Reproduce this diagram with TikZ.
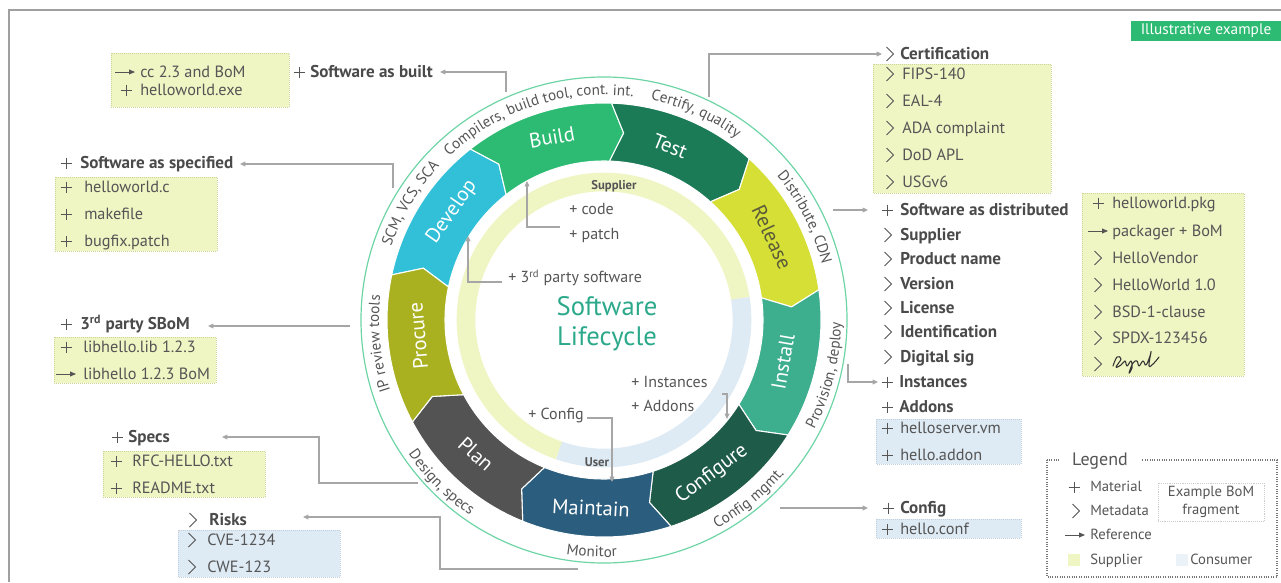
\documentclass[tikz,border=0pt]{standalone}
\usepackage{fontspec}
\setmainfont{PT Sans}
\usetikzlibrary{arrows.meta,decorations.text}

\definecolor{tcol}{HTML}{555555}
\definecolor{hcol}{HTML}{4A4A4A}
\definecolor{linec}{HTML}{A6A6A6}
\definecolor{supc}{HTML}{F0F5C4}
\definecolor{supb}{HTML}{CDD39A}
\definecolor{conc}{HTML}{DEEAF4}
\definecolor{conb}{HTML}{C2D0DD}
\definecolor{ringline}{HTML}{6ED4A6}
\definecolor{framec}{HTML}{A0A0A0}
\definecolor{titlec}{HTML}{2BA98A}
\definecolor{segdev}{HTML}{31C0D8}
\definecolor{segbuild}{HTML}{2DBB73}
\definecolor{segtest}{HTML}{1B7B56}
\definecolor{segrel}{HTML}{D5DF35}
\definecolor{seginst}{HTML}{3DAE8E}
\definecolor{segconf}{HTML}{1E5B48}
\definecolor{segmaint}{HTML}{2A5D7E}
\definecolor{segplan}{HTML}{535353}
\definecolor{segproc}{HTML}{A9B120}
\definecolor{relc}{HTML}{5B5B3A}
\definecolor{illus}{HTML}{2DBB73}

\newcommand\lf{\fontsize{12.2}{14}\selectfont}
\newcommand\hf{\fontsize{12.8}{15}\selectfont}
\newcommand\af{\fontsize{11.4}{13}\selectfont}

\tikzset{
 txt/.style={anchor=mid west, inner sep=0pt, text=tcol, font=\lf, yshift=-1.6pt},
 itxt/.style={anchor=mid west, inner sep=0pt, text=tcol, font=\fontsize{12}{14}\selectfont, yshift=-1.2pt},
 hd/.style={anchor=mid west, inner sep=0pt, text=hcol, font=\hf\bfseries, yshift=-1.8pt},
 ltxt/.style={anchor=mid west, inner sep=0pt, text=tcol, font=\fontsize{11}{13}\selectfont, yshift=-1.2pt},
 mk/.style={draw=tcol, line width=0.75pt},
 conn/.style={draw=linec, line width=0.9pt, -{Triangle[length=4pt,width=3.5pt]}},
 ybox/.style={fill=supc, draw=supb, densely dotted, line width=0.5pt},
 bbox/.style={fill=conc, draw=conb, densely dotted, line width=0.5pt},
 seglab/.style={text=white, font=\fontsize{15.5}{17}\selectfont, inner sep=0pt},
 arctext/.style={decorate, decoration={text along path, text align=center, text color=tcol, text={|\af|#1}}},
 mplus/.pic={\draw[mk] (-5.5,0)--(5.5,0) (0,-5.5)--(0,5.5);},
 mchev/.pic={\draw[mk] (-3.5,-7)--(3.5,0)--(-3.5,7);},
 mref/.pic={\draw[mk] (-11,0)--(4,0); \fill[tcol] (9,0)--(3,-2.6)--(3,2.6)--cycle;},
}
\newcommand\itm[6]{\pic at (#3,#5) {#2}; \node[txt] (#1) at (#4,#5) {#6};}
\newcommand\hitm[6]{\pic at (#3,#5) {#2}; \node[hd] (#1) at (#4,#5) {#6};}

\begin{document}
\begin{tikzpicture}[x=0.75pt,y=-0.75pt]
\useasboundingbox (0,0) rectangle (1281,582);
\draw[framec, line width=1.1pt] (9,582) -- (9,10) -- (1281,10);

\node[fill=illus, text=white, font=\fontsize{11.5}{13}\selectfont, minimum width=112pt, minimum height=14.5pt, inner sep=0pt] (illus) at (1206,31) {Illustrative example};

% ---------- wheel ----------
\begin{scope}[shift={(604,320)}, y=0.75pt]
 \draw[ringline, line width=0.9pt] (0,0) circle[radius=243];
 \foreach \a/\c in {168/segdev,128/segbuild,88/segtest,48/segrel,8/seginst,-32/segconf,-72/segmaint,-112/segplan,208/segproc}
  \filldraw[fill=\c, draw=white, line width=0.8pt] (\a:217) arc[start angle=\a, end angle=\a-40, radius=217] -- (\a-44:188) -- (\a-40:159) arc[start angle=\a-40, end angle=\a, radius=159] -- (\a-4:188) -- cycle;
 \draw[supc, line width=14pt] (9:138) arc[start angle=9, end angle=251, radius=138];
 \draw[conc, line width=14pt] (251:138) arc[start angle=251, end angle=369, radius=138];
 % outer arc texts
 \path[arctext={SCM, VCS, SCA}] (179:225) arc[start angle=179, end angle=119, radius=225];
 \path[arctext={Compilers, build tool, cont. int.}] (150:225) arc[start angle=150, end angle=66, radius=225];
 \path[arctext={Certify, quality}] (96:225) arc[start angle=96, end angle=36, radius=225];
 \path[arctext={Distribute, CDN}] (57:225) arc[start angle=57, end angle=-3, radius=225];
 \path[arctext={IP review tools}] (216:225) arc[start angle=216, end angle=156, radius=225];
 \path[arctext={Provision, deploy}] (-44:237) arc[start angle=-44, end angle=16, radius=237];
 \path[arctext={Config mgmt.}] (-81:237) arc[start angle=-81, end angle=-21, radius=237];
 \path[arctext={Monitor}] (-123:237) arc[start angle=-123, end angle=-63, radius=237];
 \path[arctext={Design, specs}] (-165:237) arc[start angle=-165, end angle=-105, radius=237];
\end{scope}

\node[seglab, rotate=55] (lDev) at (452,212) {Develop};
\node[seglab, rotate=10] (lBuild) at (552,137) {Build};
\node[seglab, rotate=-22] (lTest) at (670,146) {Test};
\node[seglab, rotate=-65, text=relc] (lRel) at (772,237) {Release};
\node[seglab, rotate=80] (lInst) at (783,362) {Install};
\node[seglab, rotate=37] (lConf) at (712,474) {Configure};
\node[seglab, rotate=-3] (lMaint) at (591,508) {Maintain};
\node[seglab, rotate=-42] (lPlan) at (476,454) {Plan};
\node[seglab, rotate=95] (lProc) at (418,336) {Procure};

\node[font=\fontsize{20}{22.5}\selectfont, text=titlec, align=center, inner sep=0pt] (title) at (607,324) {Software\\Lifecycle};
\node[font=\bfseries\fontsize{9.5}{11}\selectfont, text=tcol, inner sep=0pt] (sup) at (614,186) {Supplier};
\node[font=\bfseries\fontsize{9.5}{11}\selectfont, text=tcol, inner sep=0pt] (usr) at (597,462) {User};

\node[itxt] (code) at (569,210) {+ code};
\node[itxt] (patch) at (569,235) {+ patch};
\node[itxt] (third) at (508,278) {+ 3\textsuperscript{rd} party software};
\node[itxt] (inst) at (631,383) {+ Instances};
\node[itxt] (addo) at (631,407) {+ Addons};
\node[itxt] (cfg) at (528,415) {+ Config};

\coordinate (cpS) at (560,227); \coordinate (bIn) at (527,181);
\draw[conn] (cpS) -| (bIn);
\coordinate (tpS) at (502,282); \coordinate (dIn) at (468,236);
\draw[conn] (tpS) -| (dIn);
\coordinate (iaS) at (722,394); \coordinate (cfIn) at (727,419);
\draw[conn] (iaS) -| (cfIn);
\coordinate (cfS) at (587,418); \coordinate (mIn) at (612,482);
\draw[conn] (cfS) -| (mIn);

% ---------- left side ----------
\draw[ybox] (111,53) rectangle (289,107);
\itm{a1}{mref}{126}{140}{72}{cc 2.3 and BoM}
\itm{a2}{mplus}{126}{140}{90}{helloworld.exe}
\hitm{hA}{mplus}{299}{310}{72}{Software as built}
\coordinate (sbS) at (506,92); \coordinate (sbE) at (440,72);
\draw[conn] (sbS) |- (sbE);

\hitm{hB}{mplus}{66}{80}{163}{Software as specified}
\draw[ybox] (55,177) rectangle (217,251);
\itm{b1}{mplus}{66}{84}{187}{helloworld.c}
\itm{b2}{mplus}{66}{84}{214}{makefile}
\itm{b3}{mplus}{66}{84}{241}{bugfix.patch}
\coordinate (ssS) at (393,188); \coordinate (ssE) at (240,164);
\draw[conn] (ssS) |- (ssE);

\hitm{hC}{mplus}{66}{80}{324}{3\textsuperscript{rd} party SBoM}
\draw[ybox] (54,337) rectangle (216,383);
\itm{c1}{mplus}{66}{83}{347}{libhello.lib 1.2.3}
\itm{c2}{mref}{67}{83}{374}{libhello 1.2.3 BoM}
\coordinate (tsS) at (350,326); \coordinate (tsE) at (208,326);
\draw[conn] (tsS) -- (tsE);

\hitm{hD}{mplus}{117}{128}{437}{Specs}
\draw[ybox] (103,451) rectangle (265,497);
\itm{d1}{mplus}{116}{132}{461}{RFC-HELLO.txt}
\itm{d2}{mplus}{116}{132}{488}{README.txt}
\coordinate (spS) at (418,483); \coordinate (spE) at (222,437);
\draw[conn] (spS) -- (319,483) |- (spE);

\hitm{hE}{mchev}{193}{209}{520}{Risks}
\draw[bbox] (178,530) rectangle (340,577);
\itm{e1}{mchev}{192}{207}{540}{CVE-1234}
\itm{e2}{mchev}{192}{207}{567}{CWE-123}
\coordinate (rkS) at (578,569); \coordinate (rkE) at (303,517);
\draw[conn] (rkS) -- (440,569) |- (rkE);

% ---------- right side ----------
\hitm{hF}{mchev}{890}{900}{54}{Certification}
\draw[ybox] (873,64) rectangle (1051,193);
\itm{f1}{mchev}{890}{902}{74}{FIPS-140}
\itm{f2}{mchev}{890}{902}{101}{EAL-4}
\itm{f3}{mchev}{890}{902}{128}{ADA complaint}
\itm{f4}{mchev}{890}{902}{155}{DoD APL}
\itm{f5}{mchev}{890}{902}{182}{USGv6}
\coordinate (ctS) at (709,97); \coordinate (ctE) at (882,54);
\draw[conn] (ctS) |- (ctE);

\hitm{g0}{mplus}{887}{900}{210}{Software as distributed}
\hitm{g1}{mchev}{888}{900}{235}{Supplier}
\hitm{g2}{mchev}{888}{900}{259}{Product name}
\hitm{g3}{mchev}{888}{900}{284}{Version}
\hitm{g4}{mchev}{888}{900}{308}{License}
\hitm{g5}{mchev}{888}{900}{332}{Identification}
\hitm{g6}{mchev}{888}{900}{357}{Digital sig}
\hitm{g7}{mplus}{887}{899}{382}{Instances}
\hitm{g8}{mplus}{887}{899}{407}{Addons}
\draw[bbox] (876,419) rectangle (1021,464);
\itm{g9}{mplus}{887}{900}{428}{helloserver.vm}
\itm{g10}{mplus}{887}{900}{455}{hello.addon}
\coordinate (sdS) at (833,210); \coordinate (sdE) at (868,210);
\draw[conn] (sdS) -- (sdE);
\coordinate (inS) at (848,364); \coordinate (inE) at (878,382);
\draw[conn] (inS) |- (inE);

\draw[ybox] (1082,193) rectangle (1244,376);
\itm{h1}{mplus}{1098}{1112}{203}{helloworld.pkg}
\itm{h2}{mref}{1099}{1112}{231}{packager + BoM}
\itm{h3}{mchev}{1098}{1112}{258}{HelloVendor}
\itm{h4}{mchev}{1098}{1112}{285}{HelloWorld 1.0}
\itm{h5}{mchev}{1098}{1112}{312}{BSD-1-clause}
\itm{h6}{mchev}{1098}{1112}{338}{SPDX-123456}
\pic at (1098,364) {mchev};
\draw[black!80, line width=0.8pt, line cap=round, line join=round] plot[smooth, tension=0.7] coordinates {(1113,366) (1117,357) (1121,359) (1116,367) (1121,365) (1125,361) (1127,366) (1131,361) (1132,368) (1129,373) (1133,363) (1137,361) (1139,366) (1143,361) (1146,365) (1150,356) (1151,352) (1149,366) (1154,363) (1159,357)};

\hitm{i0}{mplus}{888}{900}{508}{Config}
\draw[bbox] (876,519) rectangle (1021,538);
\itm{i1}{mplus}{887}{900}{529}{hello.conf}
\coordinate (cgS) at (780,508); \coordinate (cgE) at (868,508);
\draw[conn] (cgS) -- (cgE);

% ---------- legend ----------
\draw[densely dotted, draw=tcol!80, line width=0.8pt] (1047,460) rectangle (1277,577);
\node[fill=white, inner xsep=10pt, inner ysep=1pt, text=tcol, font=\fontsize{13.5}{15}\selectfont] (leg) at (1100,461) {Legend};
\pic at (1074,487) {mplus}; \node[ltxt] (l1) at (1090,487) {Material};
\pic at (1076,511) {mchev}; \node[ltxt] (l2) at (1090,511) {Metadata};
\pic at (1076,535) {mref}; \node[ltxt] (l3) at (1090,535) {Reference};
\fill[supc] (1068,554) rectangle (1080,566); \node[ltxt] (l4) at (1090,560) {Supplier};
\fill[conc!60] (1176,554) rectangle (1188,566); \node[ltxt] (l5) at (1190,560) {Consumer};
\node[draw=tcol!30, densely dotted, minimum width=79.5pt, minimum height=28.5pt, align=center, font=\fontsize{11}{13}\selectfont, text=tcol, inner sep=0pt] (ex) at (1211,502) {Example BoM\\fragment};
\end{tikzpicture}
\end{document}
